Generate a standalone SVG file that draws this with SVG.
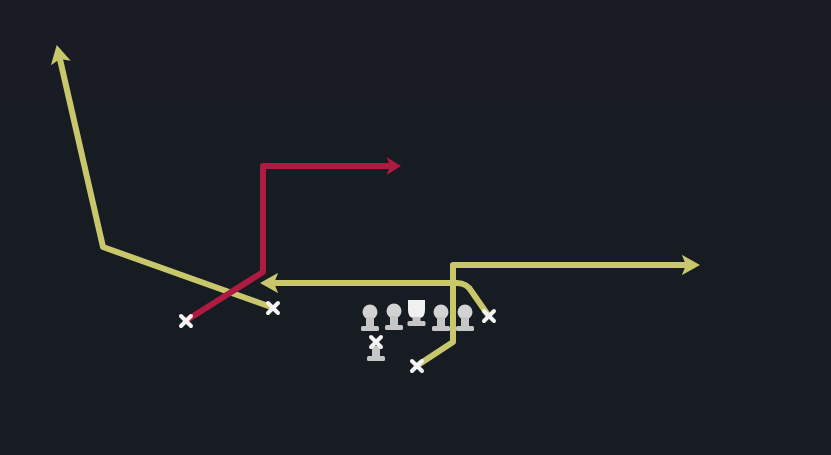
<svg xmlns="http://www.w3.org/2000/svg" width="831" height="455" viewBox="0 0 831 455">
<defs>
<style>
.y{fill:none;stroke:#c9c76c;stroke-width:6;stroke-linejoin:round;stroke-linecap:butt}
.r{fill:none;stroke:#ae1a40;stroke-width:6;stroke-linejoin:round;stroke-linecap:butt}
.x{stroke:#f4f4f4;stroke-width:4;stroke-linecap:round}
.pw{fill:#c6c6c6}
.ph{fill:#d2d2d2}
</style>
<marker id="ay" viewBox="0 0 10 10" refX="5" refY="5" markerWidth="3.4" markerHeight="3.4" orient="auto" markerUnits="strokeWidth">
<path d="M1,0 L10,5 L1,10 L3,5 Z" fill="#c9c76c"/>
</marker>
<marker id="ar" viewBox="0 0 10 10" refX="5" refY="5" markerWidth="3" markerHeight="3" orient="auto" markerUnits="strokeWidth">
<path d="M2,0 L10,5 L2,10 L4,5 Z" fill="#ae1a40"/>
</marker>
<g id="pawn">
<circle class="ph" cx="0" cy="0" r="7.5"/>
<rect class="pw" x="-4" y="5" width="8" height="11"/>
<rect class="pw" x="-9" y="14" width="18" height="5" rx="1.5"/>
</g>
<g id="xm">
<line class="x" x1="-5" y1="-5" x2="5" y2="5"/>
<line class="x" x1="-5" y1="5" x2="5" y2="-5"/>
</g>
</defs>
<rect width="831" height="455" fill="#171b22"/>
<rect width="831" height="110" fill="#1a1e26" opacity="0.6"/>
<g id="connectors">
<polyline class="y" points="271,307 103,247 59,55" marker-end="url(#ay)"/>
<polyline class="r" points="187,320 263,272 263,166 392,166" marker-end="url(#ar)"/>
<polyline class="y" points="418,365 453,342 453,265 690,265" marker-end="url(#ay)"/>
<path class="y" d="M488,315 L472,292 Q467,283 457,283 L270,283" marker-end="url(#ay)"/>
</g>
<g id="players">
<use id="p1" href="#pawn" x="370" y="312"/>
<use id="p2" href="#pawn" x="394" y="311"/>
<g id="p3">
<path d="M408,300 h17 v10 q0,7 -5,8 h-7 q-5,-1 -5,-8 Z" fill="#f0f0f0"/>
<rect class="pw" x="412.5" y="317" width="8" height="5"/>
<rect class="pw" x="407.5" y="321" width="18" height="5" rx="1.5"/>
</g>
<use id="p4" href="#pawn" x="441" y="312"/>
<use id="p5" href="#pawn" x="465" y="312"/>
<g id="p6">
<rect class="pw" x="372" y="346" width="8" height="11"/>
<rect class="pw" x="367" y="356" width="18" height="5" rx="1.5"/>
<use href="#xm" x="376" y="342"/>
</g>
<use id="x1" href="#xm" x="186" y="321"/>
<use id="x2" href="#xm" x="273" y="308"/>
<use id="x3" href="#xm" x="417" y="366"/>
<use id="x4" href="#xm" x="489" y="316"/>
</g>
</svg>
